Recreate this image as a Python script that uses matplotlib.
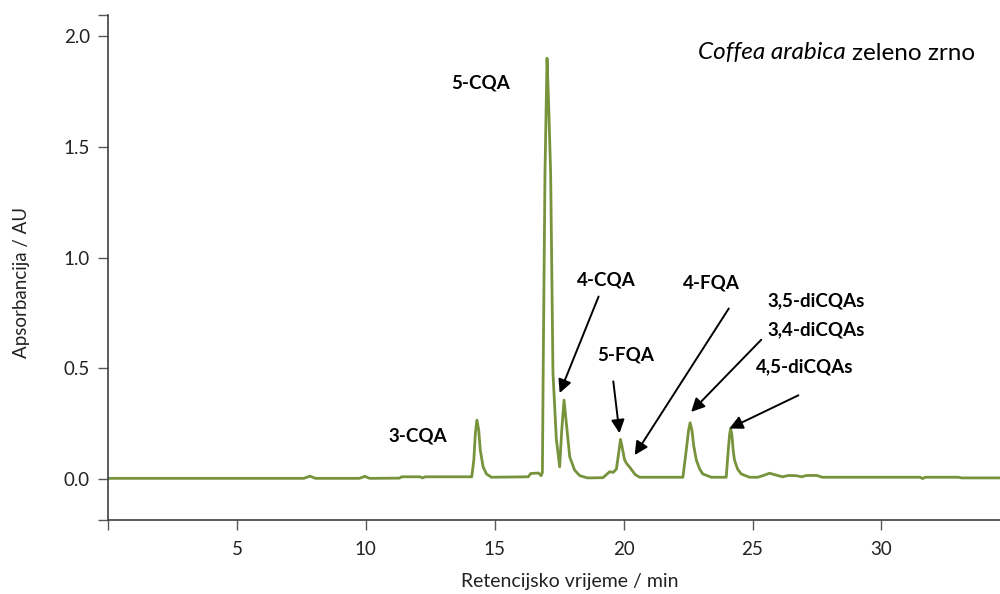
import numpy as np
import matplotlib.pyplot as plt

plt.rcParams['font.family'] = ['Lato', 'DejaVu Sans']

# chromatogram trace (time / min, absorbance / AU)
t = [0.0, 7.6, 7.83, 8.05, 9.75, 9.96, 10.15, 11.3, 11.4, 12.1, 12.2, 12.3,
     14.05, 14.11, 14.19, 14.25, 14.31, 14.38, 14.44, 14.55, 14.68, 14.87,
     16.3, 16.4, 16.7, 16.8, 16.85, 16.88, 16.95, 17.03, 17.09, 17.17, 17.26,
     17.39, 17.52, 17.6, 17.69, 17.78, 17.91, 18.1, 18.3, 18.6,
     19.2, 19.46, 19.6, 19.72, 19.8, 19.88, 19.95, 20.03, 20.1, 20.27, 20.45, 20.62,
     22.3, 22.43, 22.52, 22.58, 22.65, 22.72, 22.82, 22.95, 23.07, 23.4,
     23.98, 24.06, 24.11, 24.15, 24.2, 24.25, 24.3, 24.42, 24.56, 24.88,
     25.2, 25.4, 25.66, 26.16, 26.4, 26.7, 26.9, 27.1, 27.5, 27.7,
     31.5, 31.6, 31.7, 33.0, 33.1, 34.6]
a = [0.003, 0.003, 0.013, 0.003, 0.003, 0.012, 0.003, 0.004, 0.010, 0.010, 0.005, 0.010,
     0.010, 0.010, 0.086, 0.206, 0.266, 0.221, 0.131, 0.055, 0.023, 0.008,
     0.010, 0.025, 0.027, 0.015, 0.03, 0.48, 1.38, 1.90, 1.70, 1.38, 0.48,
     0.18, 0.055, 0.22, 0.356, 0.25, 0.10, 0.04, 0.015, 0.005,
     0.006, 0.033, 0.03, 0.045, 0.11, 0.179, 0.14, 0.09, 0.073, 0.048, 0.02, 0.008,
     0.008, 0.13, 0.22, 0.254, 0.22, 0.15, 0.086, 0.045, 0.023, 0.008,
     0.008, 0.13, 0.20, 0.228, 0.20, 0.13, 0.086, 0.045, 0.023, 0.008,
     0.008, 0.015, 0.026, 0.010, 0.016, 0.015, 0.010, 0.016, 0.016, 0.008,
     0.008, 0.002, 0.008, 0.008, 0.005, 0.005]

# peak labels: text, text position, arrow tail, arrow head
labels = ['5-CQA', '3-CQA', '4-CQA', '5-FQA', '4-FQA', '3,5-diCQAs', '3,4-diCQAs', '4,5-diCQAs']
lab_x = [14.46, 12.02, 19.34, 20.08, 23.41, 27.48, 27.48, 27.02]
lab_y = [1.788, 0.194, 0.90, 0.559, 0.887, 0.806, 0.676, 0.509]
arr_from = [(19.03, 0.824), (19.60, 0.441), (24.08, 0.770), (25.34, 0.629), (26.78, 0.378)]
arr_to = [(17.52, 0.388), (19.84, 0.207), (20.43, 0.108), (22.62, 0.303), (24.10, 0.228)]

fig = plt.figure(figsize=(10, 5.94), dpi=100)
ax = fig.add_axes([0.108, 0.1246, 0.892, 0.8501])

ax.plot(t, a, color='#77933C', lw=2.0)

ax.set_xlim(0, 34.6)
ax.set_ylim(-0.185, 2.095)
ax.set_xticks([0, 5, 10, 15, 20, 25, 30])
ax.set_xticklabels(['', '5', '10', '15', '20', '25', '30'])
ax.set_yticks([0.0, 0.5, 1.0, 1.5, 2.0])
ax.set_yticklabels(['0.0', '0.5', '1.0', '1.5', '2.0'])
ax.set_yticks([-0.185, 2.095], minor=True)
ax.tick_params(which='both', direction='out', length=7, width=1, color='#595959',
               labelsize=13.5, labelcolor='#222222')
ax.tick_params(axis='x', pad=8)
ax.tick_params(axis='y', pad=6)

for s in ['top', 'right']:
    ax.spines[s].set_visible(False)
for s in ['left', 'bottom']:
    ax.spines[s].set_color('#404040')
    ax.spines[s].set_linewidth(1.2)

ax.set_xlabel('Retencijsko vrijeme / min', fontsize=14, color='#222222')
ax.set_ylabel('Apsorbancija / AU', fontsize=13.5, color='#222222')
ax.xaxis.set_label_coords(0.518, -0.105)
ax.yaxis.set_label_coords(-0.088, 0.47)

for i in range(len(labels)):
    ax.text(lab_x[i], lab_y[i], labels[i], fontsize=13.5, fontweight='bold',
            ha='center', va='center', color='black')

for p0, p1 in zip(arr_from, arr_to):
    ax.annotate('', xy=p1, xytext=p0,
                arrowprops=dict(arrowstyle='-|>', color='black', lw=1.4,
                                mutation_scale=20, shrinkA=0, shrinkB=0))

# title: italic species name followed by plain text, right edge at 975 px
t2 = fig.text(0.975, 1 - 53 / 594, 'zeleno zrno', fontsize=17.5,
              ha='right', va='center')
fig.canvas.draw()
bb = t2.get_window_extent()
fig.text(bb.x0 / 1000 - 0.006, 1 - 53 / 594, 'Coffea arabica', fontsize=17.5,
         style='italic', ha='right', va='center')

plt.savefig('out.png', dpi=100)
